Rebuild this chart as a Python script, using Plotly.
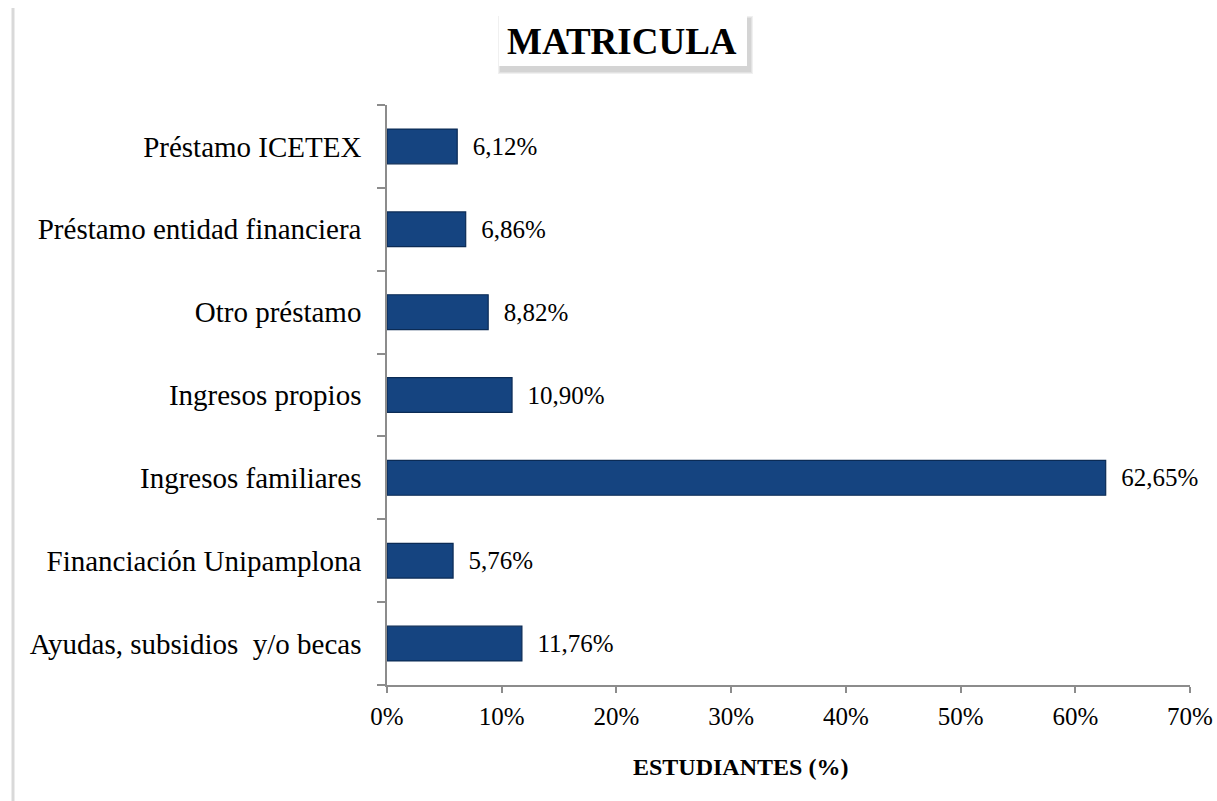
import plotly.graph_objects as go

categories = ["Ayudas, subsidios\u00a0 y/o becas", "Financiación Unipamplona", "Ingresos familiares",
              "Ingresos propios", "Otro préstamo", "Préstamo entidad financiera", "Préstamo ICETEX"]
values = [11.76, 5.76, 62.65, 10.90, 8.82, 6.86, 6.12]
x_ticks = [0, 10, 20, 30, 40, 50, 60, 70]
x_ticktext = [f"{v}%" for v in x_ticks]

SERIF = "Liberation Serif, Times New Roman, serif"

fig = go.Figure()
fig.add_trace(go.Bar(
    x=values, y=categories, orientation="h",
    marker=dict(color="#154480", line=dict(color="#0b2b55", width=1.2)),
    texttemplate="\u00a0\u00a0%{x:.2f}%", textposition="outside",
    textfont=dict(family=SERIF, size=25, color="black"),
    cliponaxis=False, width=0.42,
))

fig.update_layout(
    width=1217, height=801,
    paper_bgcolor="white", plot_bgcolor="white",
    margin=dict(l=387, r=27, t=105, b=116, autoexpand=False),
    separators=",.",
    showlegend=False,
    xaxis=dict(range=[0, 70], tickvals=x_ticks, ticktext=x_ticktext,
               automargin=False,
               showgrid=False, zeroline=False,
               showline=True, linecolor="#8c8c8c", linewidth=1.5,
               ticks="outside", ticklen=6, tickcolor="#8c8c8c", tickwidth=1.5,
               tickfont=dict(family=SERIF, size=25, color="black"),
               ticklabelstandoff=2),
    yaxis=dict(showgrid=False, zeroline=False, automargin=False,
               showline=True, linecolor="#8c8c8c", linewidth=1.5,
               ticks="outside", ticklen=8, tickcolor="#8c8c8c", tickwidth=1.5,
               tickson="boundaries",
               ticklabelstandoff=18,
               tickfont=dict(family=SERIF, size=29, color="black")),
)

def px_x(p):
    return (p - 387) / 803

def px_y(p):
    return (801 - 116 - p) / 580

# title box with soft shadow
for i, c in enumerate(["#f0f0f0", "#e2e2e2", "#d4d4d4"]):
    d = 3 - i
    fig.add_shape(type="rect", xref="paper", yref="paper",
                  x0=px_x(501 - d), x1=px_x(750 + d),
                  y0=px_y(71 + d), y1=px_y(19 - d),
                  fillcolor=c, line=dict(width=0), layer="below")
fig.add_shape(type="rect", xref="paper", yref="paper",
              x0=px_x(499), x1=px_x(747), y0=px_y(66), y1=px_y(15),
              fillcolor="white", line=dict(width=0), layer="below")
fig.add_annotation(text="<b>MATRICULA</b>", xref="paper", yref="paper",
                   x=px_x(622), y=px_y(42), xanchor="center", yanchor="middle",
                   showarrow=False,
                   font=dict(family=SERIF, size=37, color="black"))
# x axis title
fig.add_annotation(text="<b>ESTUDIANTES (%)</b>", xref="paper", yref="paper",
                   x=px_x(740), y=px_y(767), xanchor="center", yanchor="middle",
                   showarrow=False,
                   font=dict(family=SERIF, size=24, color="black"))
# page border shadow on left
fig.add_shape(type="line", xref="paper", yref="paper",
              x0=px_x(13), x1=px_x(13), y0=px_y(8), y1=px_y(801),
              line=dict(color="#d9d9d9", width=3))

fig.write_html("out.html", config={"displayModeBar": False},
               post_script="document.body.style.margin='0';")
